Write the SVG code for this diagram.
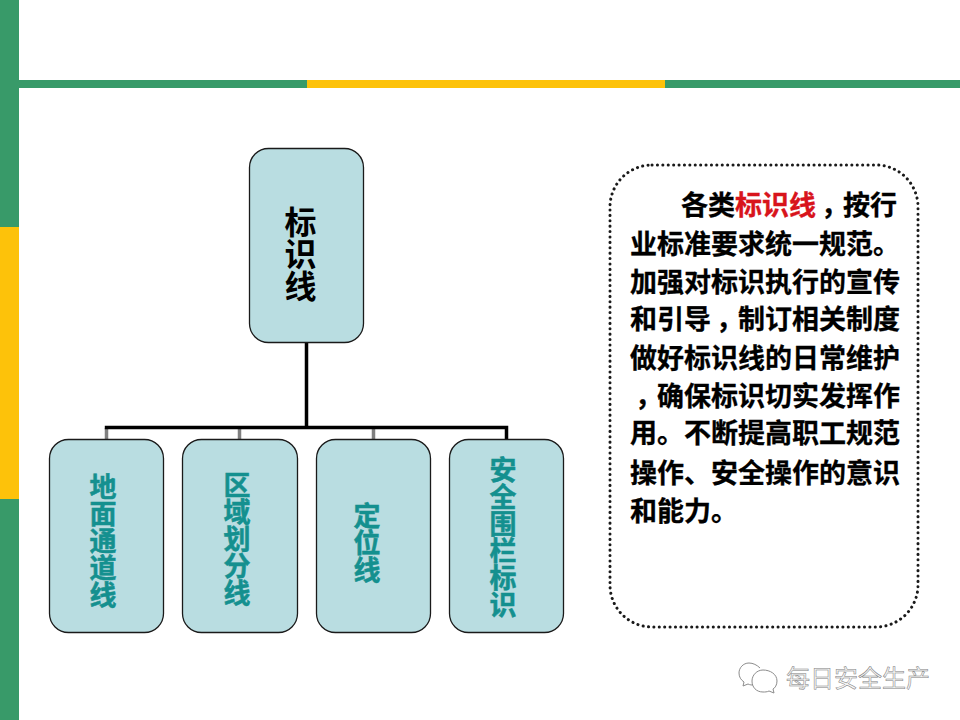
<svg xmlns="http://www.w3.org/2000/svg" width="960" height="720" viewBox="0 0 960 720">
<style>
.box{fill:#b9dde1;stroke:#1a1a1a;stroke-width:1.3}
.cjk{font-family:"Noto Sans CJK SC","Liberation Sans",sans-serif;font-weight:700}
.v{font-size:27px;fill:#14908f;stroke:#14908f;stroke-width:.5;writing-mode:vertical-rl;text-orientation:upright}
.root{font-size:32px;fill:#000;writing-mode:vertical-rl;text-orientation:upright}
.p{font-size:27px;fill:#000;stroke:#000;stroke-width:.3}
.c{letter-spacing:-5px}
.w{font-size:24px;font-weight:400;fill:#f6f6f6;stroke:#808080;stroke-width:.5}
.k{fill:none;stroke:#000;stroke-width:3.5}
.g{fill:none;stroke:#808080;stroke-width:3.5}
.ic{fill:#fff;stroke:#8c8c8c;stroke-width:1}
</style>
<rect width="960" height="720" fill="#fff"/>
<g id="frame">
<rect x="0" y="0" width="19" height="227" fill="#389a69"/>
<rect x="0" y="227" width="19" height="272" fill="#fdc20a"/>
<rect x="0" y="499" width="19" height="221" fill="#389a69"/>
<rect x="19" y="80" width="288" height="8" fill="#389a69"/>
<rect x="307" y="80" width="358" height="8" fill="#fdc20a"/>
<rect x="665" y="80" width="295" height="8" fill="#389a69"/>
</g>
<g id="connectors">
<path class="g" d="M106.500 428V439M239.500 428V439M373.500 428V439"/>
<path class="k" d="M306.500 342V427M104.800 427.500H506.500V439"/>
</g>
<g id="node-root">
<rect class="box" x="249.500" y="148.500" width="114" height="194" rx="19"/>
<text class="cjk root" x="300.500" y="206">标识线</text>
</g>
<g id="node-1">
<rect class="box" x="49.500" y="439.500" width="114" height="193" rx="19"/>
<text class="cjk v" x="103" y="473">地面通道线</text>
</g>
<g id="node-2">
<rect class="box" x="182.500" y="439.500" width="115" height="193" rx="19"/>
<text class="cjk v" x="237" y="471">区域划分线</text>
</g>
<g id="node-3">
<rect class="box" x="316.500" y="439.500" width="114" height="193" rx="19"/>
<text class="cjk v" x="367" y="502">定位线</text>
</g>
<g id="node-4">
<rect class="box" x="449.500" y="439.500" width="114" height="193" rx="19"/>
<text class="cjk v" x="503" y="456">安全围栏标识</text>
</g>
<g id="note">
<rect x="610" y="165" width="308" height="462" rx="42" fill="#fff" stroke="#1a1a1a" stroke-width="3" stroke-dasharray="0.100 5.300" stroke-linecap="round"/>
<text class="cjk p" x="681" y="215">各类<tspan fill="#d8141c" stroke="#d8141c">标识线</tspan><tspan class="c" dx="5">，</tspan>按行</text>
<text class="cjk p" x="630" y="254">业标准要求统一规范。</text>
<text class="cjk p" x="630" y="292">加强对标识执行的宣传</text>
<text class="cjk p" x="630" y="329">和引导<tspan class="c" dx="5">，</tspan>制订相关制度</text>
<text class="cjk p" x="630" y="368">做好标识线的日常维护</text>
<text class="cjk p" x="635" y="406"><tspan class="c">，</tspan>确保标识切实发挥作</text>
<text class="cjk p" x="630" y="443">用。不断提高职工规范</text>
<text class="cjk p" x="630" y="483">操作、安全操作的意识</text>
<text class="cjk p" x="630" y="521">和能力。</text>
</g>
<g id="watermark">
<path class="ic" d="M760 668C757 665 753 663 749 663C743 663 739 668 739 673C739 677 741 680 744 682L743 686L748 684C750 685 752 685 753 685"/>
<path class="ic" d="M763 670C770 670 777 674 777 681C777 685 775 688 773 689L774 693L769 691C767 692 765 692 763 692C756 692 752 687 752 681C752 675 757 670 763 670Z"/>
<text class="cjk w" x="786" y="687">每日安全生产</text>
</g>
</svg>
